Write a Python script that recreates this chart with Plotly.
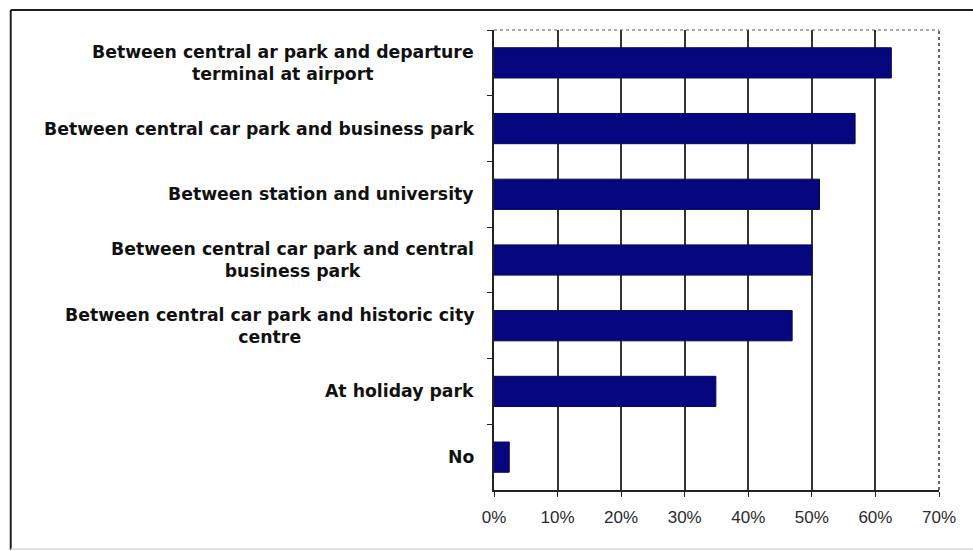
import plotly.graph_objects as go

# Survey responses: share of respondents choosing each location
categories = [
    "Between central ar park and departure<br>terminal at airport",
    "Between central car park and business park",
    "Between station and university",
    "Between central car park and central<br>business park",
    "Between central car park and historic city<br>centre",
    "At holiday park",
    "No",
]
values = [62.5, 56.8, 51.2, 50.0, 46.9, 34.9, 2.4]
tick_values = [0, 10, 20, 30, 40, 50, 60, 70]
tick_labels = ["0%", "10%", "20%", "30%", "40%", "50%", "60%", "70%"]

cat_ids = [f"c{i}" for i in range(len(categories))]

fig = go.Figure(
    go.Bar(
        x=values,
        y=cat_ids,
        orientation="h",
        marker=dict(color="#06067f", line=dict(color="#080850", width=1)),
        hoverinfo="skip",
    )
)

# Category labels drawn as centred multi-line text, right-aligned to the axis
for cid, label in zip(cat_ids, categories):
    fig.add_annotation(
        x=0, xref="paper", y=cid, yref="y",
        text=label, showarrow=False,
        xanchor="right", yanchor="middle", align="center",
        xshift=-18,
        font=dict(family="DejaVu Sans", size=17.3, color="#111111", weight="bold"),
    )

# Outer frame around the chart, dotted top and right edges of the plot area
frame = dict(color="#1e1e1e", width=2)
fig.add_shape(type="line", xref="paper", yref="paper",
              x0=-1.086, x1=1.2, y0=1.0435, y1=1.0435, line=frame)
fig.add_shape(type="line", xref="paper", yref="paper",
              x0=-1.086, x1=-1.086, y0=1.0435, y1=-0.13, line=frame)
fig.add_shape(type="line", xref="paper", yref="paper",
              x0=-1.086, x1=1.2, y0=-0.128, y1=-0.128,
              line=dict(color="#d8d8d8", width=1.5))
fig.add_shape(type="line", xref="paper", yref="paper",
              x0=0, x1=1, y0=1, y1=1,
              line=dict(color="#555555", width=1, dash="dot"))
fig.add_shape(type="line", xref="paper", yref="paper",
              x0=1, x1=1, y0=0, y1=1,
              line=dict(color="#333333", width=1.5, dash="dot"))

fig.update_layout(
    width=973, height=551,
    margin=dict(l=494, r=34, t=30, b=61),
    paper_bgcolor="white", plot_bgcolor="white",
    bargap=0.54,
    showlegend=False,
    xaxis=dict(
        range=[0, 70], tickvals=tick_values, ticktext=tick_labels,
        showgrid=True, gridcolor="#333333", gridwidth=1.5,
        showline=True, linecolor="#222222", linewidth=2,
        ticks="outside", ticklen=5, tickcolor="#222222",
        ticklabelstandoff=6,
        tickfont=dict(family="Liberation Sans, Arial", size=17, color="#2a2a2a"),
        zeroline=False, fixedrange=True,
    ),
    yaxis=dict(
        categoryorder="array", categoryarray=cat_ids,
        autorange="reversed",
        showticklabels=False,
        showline=True, linecolor="#222222", linewidth=2,
        ticks="outside", ticklen=5, tickcolor="#222222",
        tickson="boundaries",
        showgrid=False, zeroline=False, fixedrange=True,
    ),
)

fig.write_html("out.html", config={"displayModeBar": False})
